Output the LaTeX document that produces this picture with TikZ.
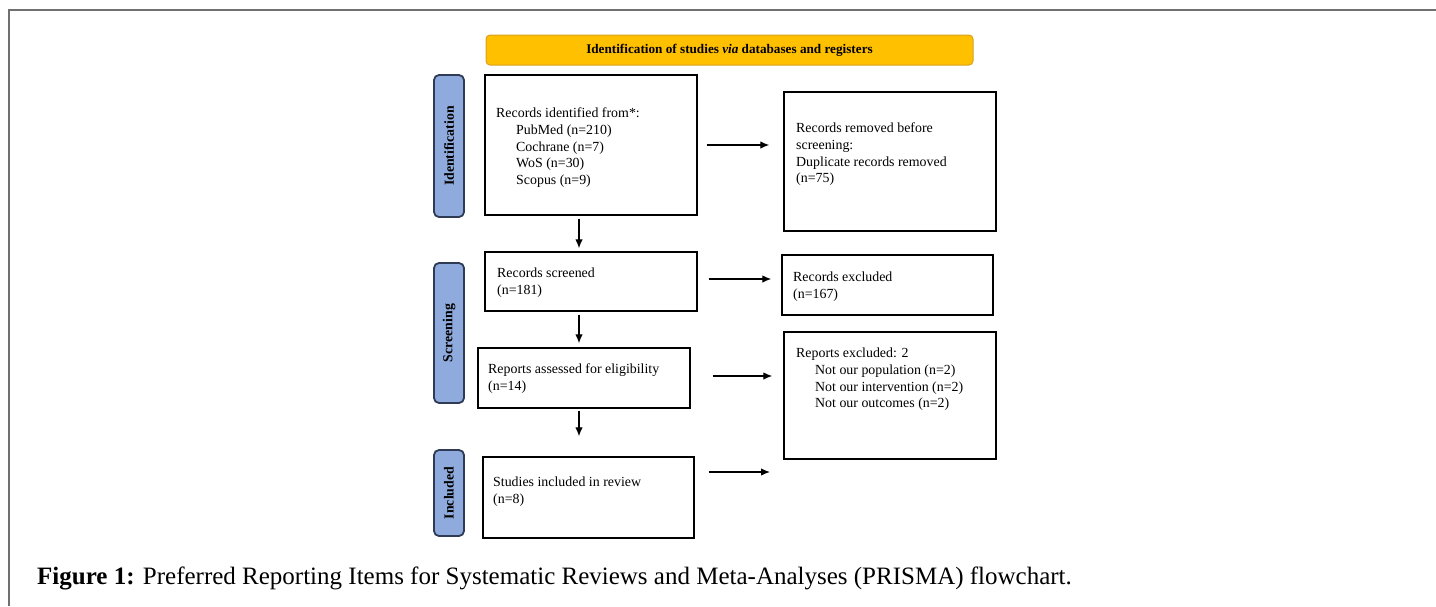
\documentclass[tikz,border=0pt]{standalone}
\usepackage{fontspec}
\setmainfont{Liberation Serif}
\usetikzlibrary{arrows.meta,fit,calc}
\definecolor{banner}{HTML}{FFC000}
\definecolor{bannerline}{HTML}{D9A020}
\definecolor{sidefill}{HTML}{8FAADC}
\definecolor{sideline}{HTML}{2F3B55}
\definecolor{frame}{HTML}{707070}
\tikzset{
  box/.style={draw=black, line width=1.4pt, inner sep=0pt, fill=white},
  side/.style={draw=sideline, line width=1.8pt, fill=sidefill, rounded corners=5pt, inner sep=0pt},
  sidetxt/.style={rotate=90, font=\fontsize{13.8}{15}\selectfont\bfseries, text=black, inner sep=0pt},
  txt/.style={anchor=north west, align=left, inner sep=0pt, font=\fontsize{13.9}{16.8}\selectfont},
  arr/.style={line width=1.3pt, -{Latex[length=9pt,width=7.5pt]}},
}
\begin{document}
\begin{tikzpicture}[x=1pt,y=-1pt]
\useasboundingbox (0,0) rectangle (1436,606);
% frame
\draw[frame, line width=1.6pt] (1436,10) -- (9,10) -- (9,606);
% banner
\node[draw=bannerline, line width=1pt, fill=banner, rounded corners=4pt, inner sep=0pt, fit={(486,35) (973,65)}] (ban) {};
\node[font=\fontsize{13.2}{15}\selectfont\bfseries, inner sep=0pt] (bantxt) at (ban.center) {Identification of studies \textit{via} databases and registers};
% side labels
\node[side, fit={(434,75) (464,217)}] (s1) {};
\node[sidetxt] (s1t) at (s1.center) {Identification};
\node[side, fit={(434,263) (464,403)}] (s2) {};
\node[sidetxt] (s2t) at (s2.center) {Screening};
\node[side, fit={(434,450) (464,536)}] (s3) {};
\node[sidetxt] (s3t) at (s3.center) {Included};
% boxes
\node[box, fit={(485,75) (697,215)}] (b1) {};
\node[box, fit={(784,92) (996,231)}] (b2) {};
\node[box, fit={(485,252) (697,311)}] (b3) {};
\node[box, fit={(782,255) (993,315)}] (b4) {};
\node[box, fit={(478,348) (690,408)}] (b5) {};
\node[box, fit={(784,332) (996,459)}] (b6) {};
\node[box, fit={(483,457) (694,538)}] (b7) {};
% texts
\node[txt] (t1) at (496,107.6) {Records identified from*:\\\hspace*{20pt}PubMed (n=210)\\\hspace*{20pt}Cochrane (n=7)\\\hspace*{20pt}WoS (n=30)\\\hspace*{20pt}Scopus (n=9)};
\node[txt] (t2) at (796,122.6) {Records removed before\\screening:\\Duplicate records removed\\(n=75)};
\node[txt] (t3) at (497,267.6) {Records screened\\(n=181)};
\node[txt] (t4) at (793,271.6) {Records excluded\\(n=167)};
\node[txt] (t5) at (488,363.6) {Reports assessed for eligibility\\(n=14)};
\node[txt] (t6) at (796,347.6) {Reports excluded: 2\\\hspace*{19pt}Not our population (n=2)\\\hspace*{19pt}Not our intervention (n=2)\\\hspace*{19pt}Not our outcomes (n=2)};
\node[txt] (t7) at (493,476.6) {Studies included in review\\(n=8)};
% arrows
\draw[arr, shorten <=9pt, shorten >=14pt] (b1.east) -- (b1.east -| b2.west);
\draw[arr, shorten <=3pt, shorten >=3pt] ([xshift=-12pt]b1.south) -- ([xshift=-12pt]b1.south |- b3.north);
\draw[arr, shorten <=11pt, shorten >=10pt] ([yshift=2.5pt]b3.east) -- ([yshift=2.5pt]b3.east -| b4.west);
\draw[arr, shorten <=3pt, shorten >=4pt] ([xshift=-12pt]b3.south) -- ([xshift=-12pt]b3.south |- b5.north);
\draw[arr, shorten <=22pt, shorten >=11pt] ([yshift=2pt]b5.east) -- ([yshift=2pt]b5.east -| b6.west);
\draw[arr, shorten <=2pt, shorten >=20pt] ([xshift=-5pt]b5.south) -- ([xshift=-5pt]b5.south |- b7.north);
\coordinate (e4) at (770,472);
\draw[arr, shorten <=14pt] (b7.east |- e4) -- (e4);
% caption
\node[anchor=base west, inner sep=0pt, font=\fontsize{25}{28}\selectfont] (cap) at (37,584) {\textbf{Figure 1:} Preferred Reporting Items for Systematic Reviews and Meta-Analyses (PRISMA) flowchart.};
\end{tikzpicture}
\end{document}
